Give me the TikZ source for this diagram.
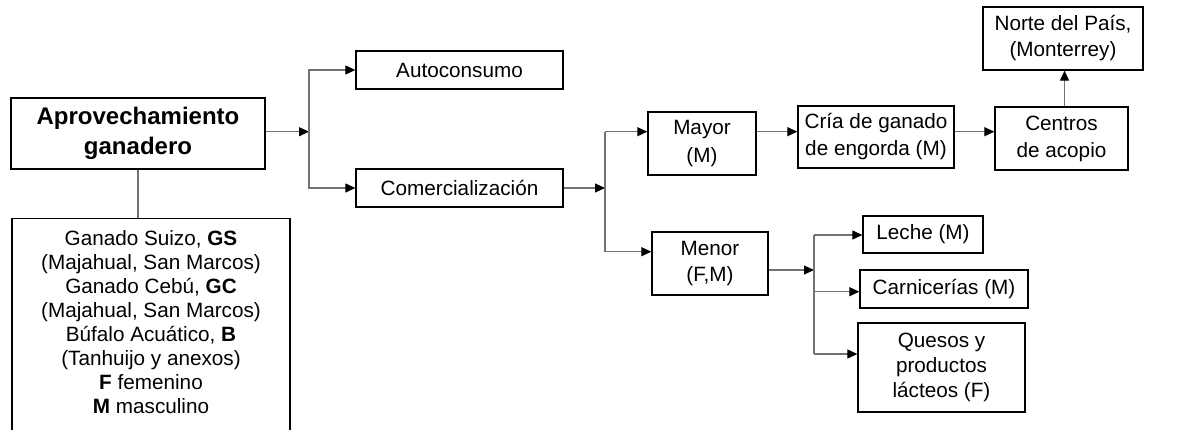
\documentclass[tikz,border=0pt]{standalone}
\usepackage{fontspec}
\setmainfont{Liberation Sans}
\usetikzlibrary{arrows.meta}
\begin{document}
\begin{tikzpicture}[x=1pt,y=-1pt,
  box/.style={draw=black,line width=1.3pt,inner sep=0pt,align=center,
    font=\fontsize{20.7}{26}\selectfont},
  conn/.style={draw=black!55,line width=1.1pt},
  arr/.style={conn,-{Triangle[length=10pt,width=9pt,black]}}]
\useasboundingbox (0,0) rectangle (1186,429);

% main source and list of breeds
\node[box,minimum width=254,minimum height=71,font=\fontsize{24}{30}\selectfont\bfseries]
  (aprov) at (138,133.5) {Aprovechamiento\\ganadero};
\node[box,minimum width=278,minimum height=230,anchor=north] (razas) at (151,218) {};
\node[anchor=north,align=center,inner sep=0pt,font=\fontsize{20.7}{24}\selectfont]
  (razastxt) at ([yshift=-12]razas.north)
  {Ganado Suizo, \textbf{GS}\\(Majahual, San Marcos)\\Ganado Cebú, \textbf{GC}\\(Majahual, San Marcos)\\
   Búfalo Acuático, \textbf{B}\\(Tanhuijo y anexos)\\\textbf{F} femenino\\\textbf{M} masculino};

% first split
\node[box,minimum width=207,minimum height=38] (auto) at (459.5,70) {Autoconsumo};
\node[box,minimum width=207,minimum height=38] (comer) at (459.5,188) {Comercialización};

% market levels
\node[box,minimum width=108,minimum height=63,font=\fontsize{20.7}{27.5}\selectfont]
  (mayor) at (702,143.5) {Mayor\\(M)};
\node[box,minimum width=116,minimum height=63,font=\fontsize{20.7}{26.5}\selectfont]
  (menor) at (710,263.5) {Menor\\(F,M)};

% wholesale chain
\node[box,minimum width=156,minimum height=62,font=\fontsize{20.7}{27}\selectfont]
  (cria) at (876,137) {Cría de ganado\\de engorda (M)};
\node[box,minimum width=133,minimum height=63,font=\fontsize{20.7}{27}\selectfont]
  (centros) at (1061.5,138.5) {Centros\\de acopio};
\node[box,minimum width=160,minimum height=63] (norte) at (1063,38.5) {Norte del País,\\(Monterrey)};

% retail products
\node[box,minimum width=120,minimum height=37] (leche) at (923,234.5) {Leche (M)};
\node[box,minimum width=168,minimum height=38] (carn) at (944,289) {Carnicerías (M)};
\node[box,minimum width=167,minimum height=89,font=\fontsize{20.7}{25}\selectfont]
  (quesos) at (941.5,367.5) {Quesos y\\productos\\lácteos (F)};

% junction points
\coordinate (j1) at (309,131.7);
\coordinate (j2) at (605,188);
\coordinate (j2a) at (605,131.7);
\coordinate (j2b) at (605,251.7);
\coordinate (j3) at (814,270);
\coordinate (j3a) at (814,235);
\coordinate (j3b) at (814,291.7);
\coordinate (j3c) at (814,354);

% connectors
\draw[conn] (aprov.south) -- (aprov.south |- razas.north);
\draw[arr] (aprov.east |- j1) -- (j1);
\draw[arr] (j1) |- (auto.west);
\draw[arr] (j1) |- (comer.west);

\draw[arr] (comer.east) -- (j2);
\draw[conn] (j2a) -- (j2b);
\draw[arr] (j2a) -- (j2a -| mayor.west);
\draw[arr] (j2b) -- (j2b -| menor.west);

\draw[arr] (mayor.east |- j2a) -- (cria.west |- j2a);
\draw[arr] (cria.east |- j2a) -- (centros.west |- j2a);
\draw[arr] ([xshift=3]centros.north) -- ([xshift=3]centros.north |- norte.south);

\draw[arr] (menor.east |- j3) -- (j3);
\draw[conn] (j3a) -- (j3c);
\draw[arr] (j3a) -- (j3a -| leche.west);
\draw[arr] (j3b) -- (j3b -| carn.west);
\draw[arr] (j3c) -- (j3c -| quesos.west);
\end{tikzpicture}
\end{document}
